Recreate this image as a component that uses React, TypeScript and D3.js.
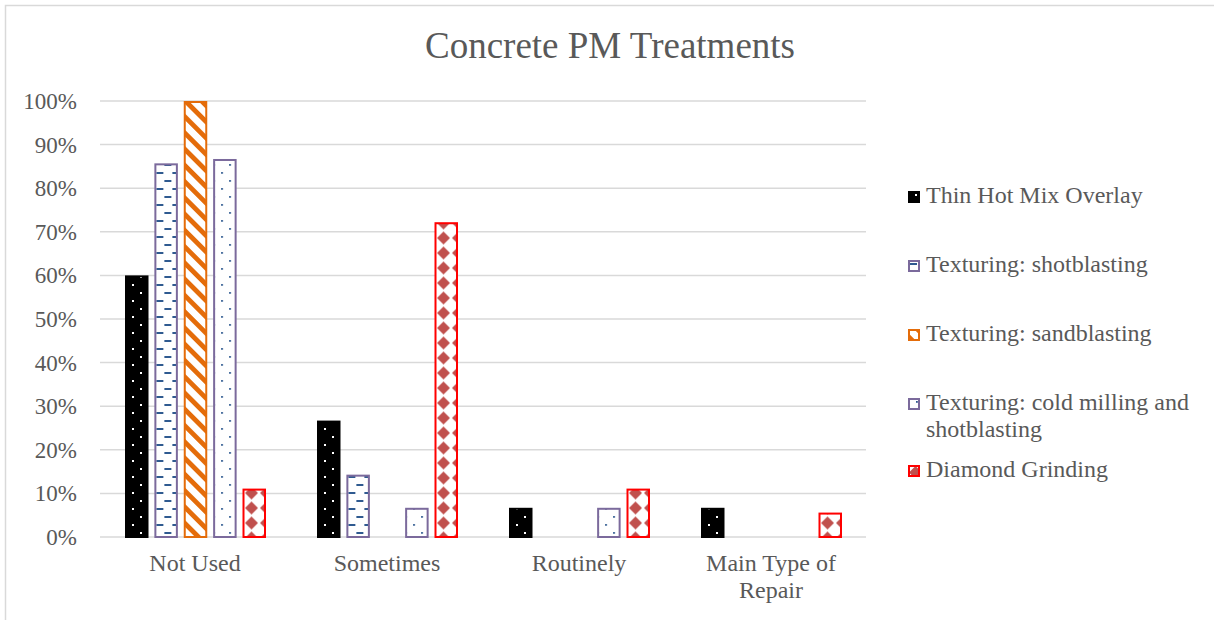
import React from "react";
import * as d3 from "d3";

const categories = ["Not Used", "Sometimes", "Routinely", "Main Type of Repair"];
const seriesNames = [
  "Thin Hot Mix Overlay",
  "Texturing: shotblasting",
  "Texturing: sandblasting",
  "Texturing: cold milling and shotblasting",
  "Diamond Grinding",
];
const thinHotMix = [0.6, 0.267, 0.067, 0.067];
const shotblasting = [0.857, 0.143, 0, 0];
const sandblasting = [1.0, 0, 0, 0];
const coldMilling = [0.867, 0.067, 0.067, 0];
const diamondGrinding = [0.111, 0.722, 0.111, 0.056];
const seriesValues = [thinHotMix, shotblasting, sandblasting, coldMilling, diamondGrinding];
const yTicks = [0, 0.1, 0.2, 0.3, 0.4, 0.5, 0.6, 0.7, 0.8, 0.9, 1.0];

const FONT = "'Liberation Serif', 'Times New Roman', serif";
const TEXT = "#595959";
const GRID = "#D9D9D9";
const PURPLE = "#7B6A9C";
const BLUE = "#2F5A90";
const ORANGE = "#E46C0A";
const RED = "#FF0000";
const DIAMOND = "#C0504D";

const strokes = ["#000000", PURPLE, ORANGE, PURPLE, RED];

function PatternDefs({ id, k, x0, y0 }: { id: string; k: number; x0: number; y0: number }) {
  if (k === 0) {
    return (
      <pattern id={id} patternUnits="userSpaceOnUse" width={16} height={16} x={x0} y={y0}>
        <rect width={16} height={16} fill="#000" />
        <rect x={7} y={3} width={2} height={2} fill="#fff" />
        <rect x={15} y={11} width={2} height={2} fill="#fff" />
        <rect x={-1} y={11} width={2} height={2} fill="#fff" />
      </pattern>
    );
  }
  if (k === 1) {
    return (
      <pattern id={id} patternUnits="userSpaceOnUse" width={16} height={16} x={x0} y={y0}>
        <rect width={16} height={16} fill="#fff" />
        <rect x={2} y={3} width={7} height={2} fill={BLUE} />
        <rect x={10} y={11} width={7} height={2} fill={BLUE} />
        <rect x={-6} y={11} width={7} height={2} fill={BLUE} />
      </pattern>
    );
  }
  if (k === 2) {
    return (
      <pattern
        id={id}
        patternUnits="userSpaceOnUse"
        width={11.5}
        height={11.5}
        x={x0}
        y={y0}
        patternTransform="rotate(-45)"
      >
        <rect width={11.5} height={11.5} fill="#fff" />
        <rect x={0} y={0} width={4.8} height={11.5} fill={ORANGE} />
      </pattern>
    );
  }
  if (k === 3) {
    return (
      <pattern id={id} patternUnits="userSpaceOnUse" width={16} height={16} x={x0} y={y0}>
        <rect width={16} height={16} fill="#fff" />
        <rect x={8} y={3} width={1.8} height={1.8} fill={BLUE} />
        <rect x={0} y={11} width={1.8} height={1.8} fill={BLUE} />
      </pattern>
    );
  }
  return (
    <pattern id={id} patternUnits="userSpaceOnUse" width={15} height={15} x={x0} y={y0}>
      <rect width={15} height={15} fill="#fff" />
      <path d="M7.5,1 L14,7.5 L7.5,14 L1,7.5 Z" fill={DIAMOND} />
    </pattern>
  );
}

export default function App() {
  const W = 1214;
  const H = 620;
  const plotLeft = 99;
  const plotRight = 867;
  const y = d3.scaleLinear().domain([0, 1]).range([537, 101]);
  const x0 = d3.scaleBand<string>().domain(categories).range([plotLeft, plotRight]).padding(0);
  const x1 = d3
    .scaleBand<number>()
    .domain(d3.range(seriesNames.length))
    .range([26, 167])
    .paddingInner(0.2)
    .paddingOuter(0);
  const fmt = d3.format(".0%");

  const bars: { key: string; k: number; x: number; y: number; w: number; h: number }[] = [];
  seriesValues.forEach((vals, k) => {
    vals.forEach((v, ci) => {
      if (v <= 0) return;
      const bx = (x0(categories[ci]) as number) + (x1(k) as number);
      const by = y(v);
      bars.push({ key: `b${k}-${ci}`, k, x: bx, y: by, w: x1.bandwidth(), h: y(0) - by });
    });
  });

  const legendBaselines = [203, 272, 341, 410, 477];
  const legendLines = [
    ["Thin Hot Mix Overlay"],
    ["Texturing: shotblasting"],
    ["Texturing: sandblasting"],
    ["Texturing: cold milling and", "shotblasting"],
    ["Diamond Grinding"],
  ];

  return (
    <svg
      width={W}
      height={H}
      style={{ position: "absolute", left: 0, top: 0, background: "#fff" }}
      fontFamily={FONT}
    >
      <defs>
        {bars.map((b) => (
          <PatternDefs
            key={"p" + b.key}
            id={"pat-" + b.key}
            k={b.k}
            x0={b.k === 4 ? b.x + 1.5 : b.x}
            y0={b.k === 4 ? y(0) - 14 - 7.5 : y(0)}
          />
        ))}
        {seriesNames.map((_, k) => (
          <PatternDefs key={"lp" + k} id={"lpat-" + k} k={k} x0={908} y0={legendBaselines[k] - 12} />
        ))}
      </defs>
      <rect x={5.5} y={5.5} width={1300} height={700} fill="#fff" stroke={GRID} strokeWidth={1.5} />

      <text x={610} y={58} textAnchor="middle" fontSize={37} fill={TEXT}>
        Concrete PM Treatments
      </text>

      {yTicks.map((t) => (
        <g key={"t" + t}>
          <line x1={plotLeft + 1} x2={plotRight - 1} y1={y(t)} y2={y(t)} stroke={GRID} strokeWidth={1.5} />
          <text x={77} y={y(t) + 8} textAnchor="end" fontSize={23} fill={TEXT}>
            {fmt(t)}
          </text>
        </g>
      ))}

      {bars.map((b) => (
        <rect
          key={b.key}
          x={b.x + 1}
          y={b.y + 1}
          width={b.w - 2}
          height={Math.max(0, b.h - 1)}
          fill={`url(#pat-${b.key})`}
          stroke={strokes[b.k]}
          strokeWidth={2}
        />
      ))}

      {categories.map((c) => {
        const cx = (x0(c) as number) + x0.bandwidth() / 2;
        const lines = c === "Main Type of Repair" ? ["Main Type of", "Repair"] : [c];
        return (
          <text key={c} textAnchor="middle" fontSize={24} fill={TEXT}>
            {lines.map((l, i) => (
              <tspan key={i} x={cx} y={571 + i * 27}>
                {l}
              </tspan>
            ))}
          </text>
        );
      })}

      {seriesNames.map((s, k) => (
        <g key={s}>
          <rect
            x={909}
            y={legendBaselines[k] - 11}
            width={10}
            height={10}
            fill={`url(#lpat-${k})`}
            stroke={strokes[k]}
            strokeWidth={2}
          />
          <text fontSize={24} fill={TEXT}>
            {legendLines[k].map((l, i) => (
              <tspan key={i} x={926} y={legendBaselines[k] + i * 27}>
                {l}
              </tspan>
            ))}
          </text>
        </g>
      ))}
    </svg>
  );
}
